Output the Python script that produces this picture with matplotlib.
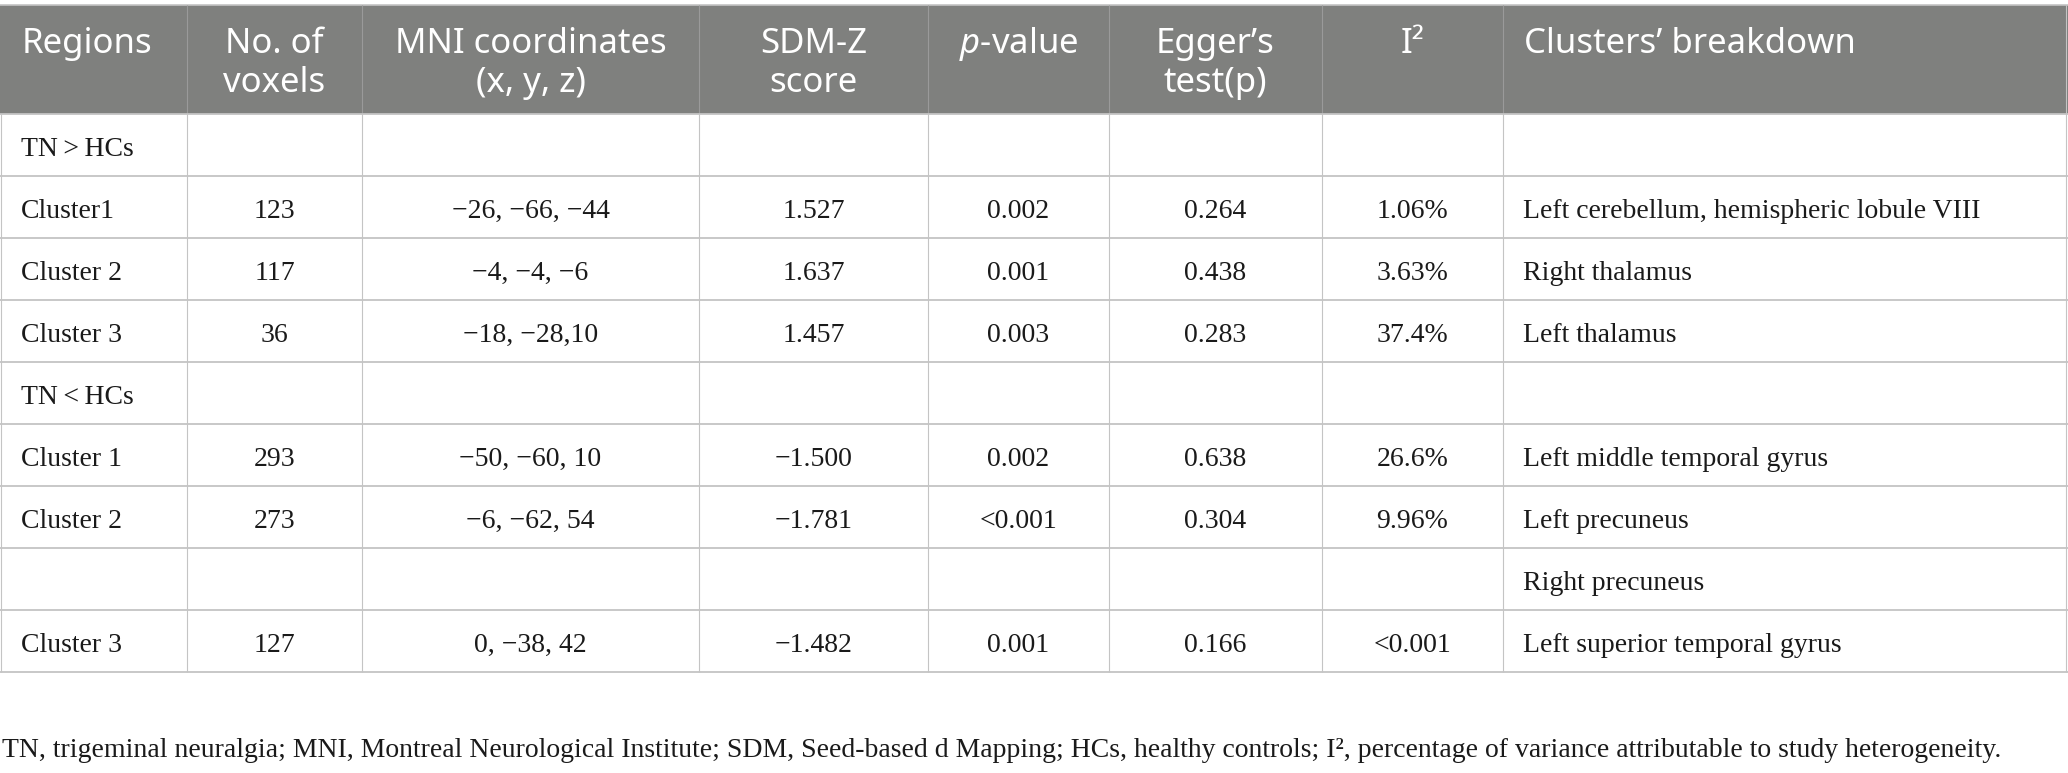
import matplotlib
matplotlib.use("Agg")
import matplotlib.pyplot as plt
from matplotlib.patches import Rectangle

plt.rcParams["mathtext.fontset"] = "custom"
plt.rcParams["mathtext.rm"] = "Noto Sans"
plt.rcParams["mathtext.it"] = "Noto Sans:italic"

# ---- table content ----
headers = [["Regions"], ["No. of", "voxels"], ["MNI coordinates", "(x, y, z)"],
           ["SDM-Z", "score"], ["$p$-value"], ["Egger\u2019s", "test(p)"],
           ["I\u00b2"], ["Clusters\u2019 breakdown"]]

regions = ["TN\u2009>\u2009HCs", "Cluster1", "Cluster 2", "Cluster 3", "TN\u2009<\u2009HCs",
           "Cluster 1", "Cluster 2", "", "Cluster 3"]
voxels = ["", "123", "117", "36", "", "293", "273", "", "127"]
mni = ["", "\u221226, \u221266, \u221244", "\u22124, \u22124, \u22126", "\u221218, \u221228,10", "",
       "\u221250, \u221260, 10", "\u22126, \u221262, 54", "", "0, \u221238, 42"]
sdm_z = ["", "1.527", "1.637", "1.457", "", "\u22121.500", "\u22121.781", "", "\u22121.482"]
p_value = ["", "0.002", "0.001", "0.003", "", "0.002", "<0.001", "", "0.001"]
egger = ["", "0.264", "0.438", "0.283", "", "0.638", "0.304", "", "0.166"]
i2 = ["", "1.06%", "3.63%", "37.4%", "", "26.6%", "9.96%", "", "<0.001"]
breakdown = ["", "Left cerebellum, hemispheric lobule VIII", "Right thalamus", "Left thalamus", "",
             "Left middle temporal gyrus", "Left precuneus", "Right precuneus",
             "Left superior temporal gyrus"]

footnote = ("TN, trigeminal neuralgia; MNI, Montreal Neurological Institute; SDM, Seed-based d Mapping; "
            "HCs, healthy controls; I\u00b2, percentage of variance attributable to study heterogeneity.")

columns = [regions, voxels, mni, sdm_z, p_value, egger, i2, breakdown]

# ---- layout (pixels) ----
W, H = 2068, 773
col_x = [1, 187, 362, 699, 928, 1109, 1322, 1503, 2066]
head_top, head_bot = 5, 114
row_h = 62
n_rows = len(regions)
row_y = [head_bot + i * row_h for i in range(n_rows + 1)]

HEAD_BG = "#7f807e"
GRID = "#c4c4c4"
TXT = "#1a1a1a"
head_font = ["Noto Sans", "DejaVu Sans"]
body_font = ["Liberation Serif", "DejaVu Serif"]

fig = plt.figure(figsize=(W / 100, H / 100), dpi=100)
ax = fig.add_axes([0, 0, 1, 1])
ax.set_xlim(0, W)
ax.set_ylim(H, 0)
ax.axis("off")

# header band
ax.add_patch(Rectangle((0, head_top), W, head_bot - head_top, color=HEAD_BG, lw=0, zorder=0))
ax.hlines(head_top, 0, W, color=GRID, lw=1.2)
ax.vlines(col_x[1:-1], head_top, head_bot, color="#9a9a9a", lw=0.8)

# grid
ax.hlines(row_y, 0, W, color=GRID, lw=1.3)
ax.vlines(col_x, head_bot, row_y[-1], color=GRID, lw=0.8)
ax.vlines([col_x[-1]], head_top, head_bot, color=GRID, lw=0.8)

# header text (baselines)
for c, lines in enumerate(headers):
    left = c in (0, 7)
    x = col_x[c] + 21 if left else (col_x[c] + col_x[c + 1]) / 2
    for k, t in enumerate(lines):
        ax.text(x, 53 + 39 * k, t, ha="left" if left else "center", va="baseline",
                color="white", fontsize=25, family=head_font)

# body text
for c, col in enumerate(columns):
    left = c in (0, 7)
    x = col_x[c] + 20 if left else (col_x[c] + col_x[c + 1]) / 2
    for r, t in enumerate(col):
        if not t:
            continue
        ax.text(x, row_y[r] + 42, t, ha="left" if left else "center", va="baseline",
                color=TXT, fontsize=20, family=body_font)

ax.text(2, 757, footnote, ha="left", va="baseline", color=TXT, fontsize=20, family=body_font)

fig.savefig("out.png", dpi=100)
